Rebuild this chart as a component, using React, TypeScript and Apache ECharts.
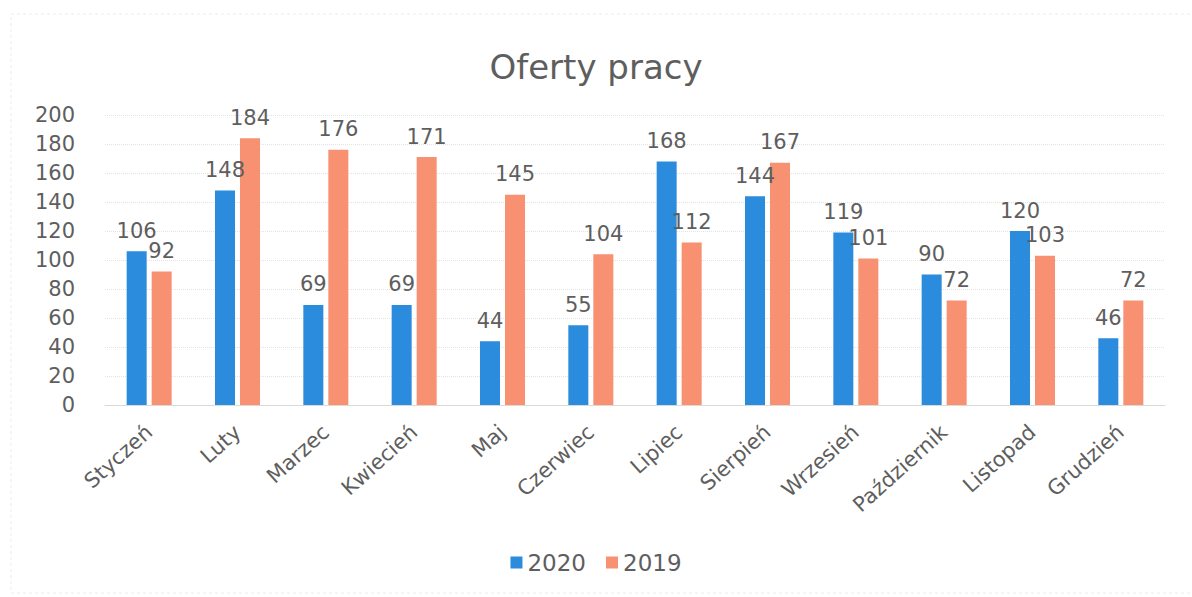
import React, { useEffect, useRef } from "react";
import * as echarts from "echarts";

const months = ["Styczeń", "Luty", "Marzec", "Kwiecień", "Maj", "Czerwiec", "Lipiec", "Sierpień", "Wrzesień", "Październik", "Listopad", "Grudzień"];
const values2020 = [106, 148, 69, 69, 44, 55, 168, 144, 119, 90, 120, 46];
const values2019 = [92, 184, 176, 171, 145, 104, 112, 167, 101, 72, 103, 72];

const textColor = "#5e5e5e";
const font = "'DejaVu Sans', 'Noto Sans', sans-serif";

export default function App() {
  const ref = useRef<HTMLDivElement>(null);
  useEffect(() => {
    document.body.style.margin = "0";
    const chart = echarts.init(ref.current!, null, { renderer: "svg" });
    const label = {
      show: true,
      position: "top",
      distance: 10,
      color: textColor,
      fontSize: 21,
      fontFamily: font,
    };
    chart.setOption({
      animation: false,
      backgroundColor: "#ffffff",
      graphic: [
        {
          type: "rect",
          shape: { x: 11, y: 14, width: 1200, height: 579 },
          style: { fill: "none", stroke: "#ececec", lineWidth: 1, lineDash: [3, 3] },
          silent: true,
        },
      ],
      title: {
        text: "Oferty pracy",
        left: "center",
        top: 45,
        textStyle: { color: textColor, fontSize: 34, fontWeight: "normal", fontFamily: font },
      },
      legend: {
        data: ["2020", "2019"],
        bottom: 18,
        left: "center",
        itemWidth: 12,
        itemHeight: 12,
        itemGap: 20,
        icon: "rect",
        textStyle: { color: textColor, fontSize: 23, fontFamily: font },
      },
      grid: { left: 105, right: 27, top: 115, bottom: 192, containLabel: false },
      xAxis: {
        type: "category",
        data: months,
        axisLine: { lineStyle: { color: "#d9d9d9" } },
        axisTick: { show: false },
        axisLabel: { rotate: 42, color: textColor, fontSize: 21, fontFamily: font, margin: 24, interval: 0 },
      },
      yAxis: {
        type: "value",
        min: 0,
        max: 200,
        interval: 20,
        axisLine: { show: false },
        axisTick: { show: false },
        axisLabel: { color: textColor, fontSize: 21, fontFamily: font, margin: 30 },
        splitLine: { lineStyle: { color: "#e3e3e3", type: "dotted" } },
      },
      series: [
        { name: "2020", type: "bar", data: values2020, barWidth: 20, barGap: "25%", itemStyle: { color: "#2B8BDC" }, label },
        { name: "2019", type: "bar", data: values2019, barWidth: 20, barGap: "25%", itemStyle: { color: "#F79172" }, label },
      ],
    });
    return () => chart.dispose();
  }, []);
  return <div ref={ref} style={{ width: 1192, height: 597 }} />;
}
